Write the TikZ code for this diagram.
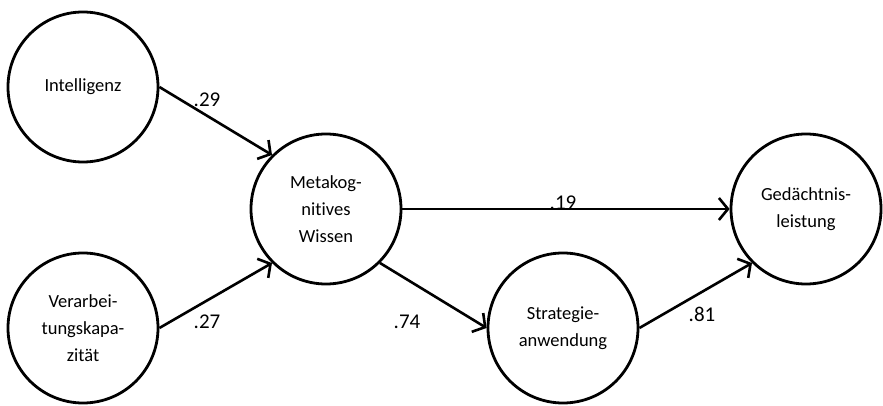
\documentclass[tikz,border=0pt]{standalone}
\usepackage{fontspec}
\setmainfont[Ligatures=NoCommon]{Carlito}
\usetikzlibrary{arrows.meta}
\tikzset{
  construct/.style={circle, draw=black, line width=2.8pt, minimum size=150pt,
    inner sep=0pt, align=center, font=\fontsize{18.5}{27}\selectfont},
  path/.style={line width=2.6pt, -{Straight Barb[length=9pt,width=22pt,line width=2.6pt]}},
  coef/.style={font=\fontsize{21}{25}\selectfont, inner sep=0pt}
}
\begin{document}
\begin{tikzpicture}[x=1pt,y=1pt]
  \useasboundingbox (0,0) rectangle (883,406);
  \node[construct] (int)   at (83,319) {Intelligenz};
  \node[construct] (verb)  at (83,78)  {Verarbei-\\tungskapa-\\zität};
  \node[construct] (meta)  at (326,197) {Metakog-\\nitives\\Wissen};
  \node[construct] (strat) at (563,78)  {Strategie-\\anwendung};
  \node[construct] (ged)   at (806,197) {Gedächtnis-\\leistung};

  \draw[path] (int.east) -- (meta.135);
  \draw[path] (verb.east) -- (meta.225);
  \draw[path] (meta.east) -- (ged.west);
  \draw[path] (meta.-45) -- (strat.west);
  \draw[path] (strat.east) -- (ged.225);

  \node[coef] (c1) at (207,306) {.29};
  \node[coef] (c2) at (207,84)  {.27};
  \node[coef] (c3) at (563,203) {.19};
  \node[coef] (c4) at (407,84)  {.74};
  \node[coef] (c5) at (702,92)  {.81};
\end{tikzpicture}
\end{document}
